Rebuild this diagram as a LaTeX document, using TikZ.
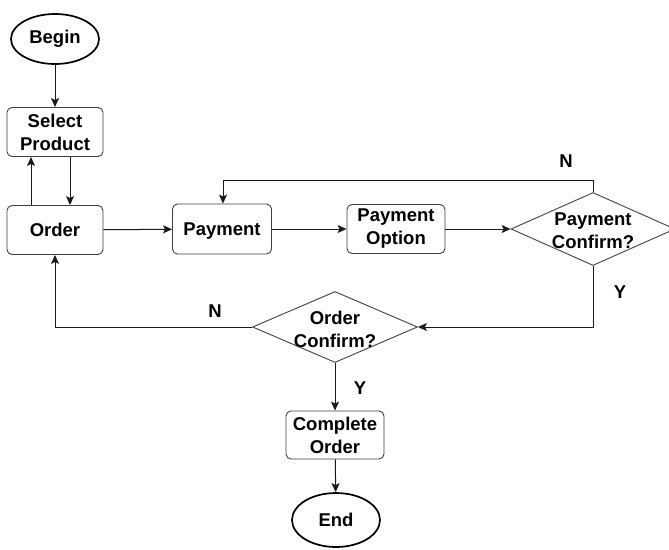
\documentclass[tikz,border=0pt]{standalone}
\usepackage{fontspec}
\setmainfont{Liberation Sans}
\usetikzlibrary{shapes.geometric,arrows.meta}
\newcommand\flowfont{\fontsize{18.5}{23}\selectfont\bfseries}
\begin{document}
\begin{tikzpicture}[x=1pt,y=-1pt,
 box/.style={draw=black!75, rounded corners=5pt, minimum width=96pt, minimum height=49pt, inner sep=0pt, align=center, font=\flowfont, line width=0.9pt},
 term/.style={ellipse, draw=black, line width=1.7pt, minimum width=88pt, minimum height=50pt, inner sep=0pt, font=\flowfont},
 dec/.style={diamond, draw=black!75, line width=0.9pt, inner sep=0pt},
 txt/.style={font=\flowfont, align=center, inner sep=0pt},
 lbl/.style={font=\flowfont, inner sep=0pt},
 conn/.style={draw=black!90, line width=1pt, -{Stealth[length=9pt,width=8pt,inset=2pt]}},
]
\useasboundingbox[fill=white] (0,0) rectangle (669,549);
\node[term] (begin) at (55,39) {Begin};
\node[box] (sel) at (55,132) {Select\\Product};
\node[box] (ord) at (55,230) {Order};
\node[box, minimum width=99pt, minimum height=50pt, text depth=0pt] (pay) at (222,229) {Payment};
\node[box, minimum width=98pt] (popt) at (396,229) {Payment\\Option};
\node[dec, minimum width=164pt, minimum height=73pt] (pc) at (593,229) {};
\node[txt] (pct) at (593,231) {Payment\\Confirm?};
\node[dec, minimum width=165pt, minimum height=71pt] (oc) at (335,327) {};
\node[txt] (oct) at (335,329) {Order\\Confirm?};
\node[box, minimum width=98pt, minimum height=48pt] (comp) at (335,435) {Complete\\Order};
\node[term, minimum height=54pt] (end) at (336,520) {End};

\draw[conn] (begin) -- (sel);
\draw[conn] ([xshift=15pt]sel.south) -- ([xshift=15pt]ord.north);
\draw[conn] ([xshift=-24pt]ord.north) -- ([xshift=-24pt]sel.south);
\draw[conn] (ord) -- (pay);
\draw[conn] (pay) -- (popt);
\draw[conn] (popt) -- (pc);
\draw[conn] (pc.north) -- ++(0,-12) -| ([xshift=1pt]pay.north);
\draw[conn] (pc.south) |- (oc.east);
\draw[conn] (oc.west) -| (ord.south);
\draw[conn] (oc) -- (comp);
\draw[conn] (comp) -- (end);

\node[lbl] (n1) at (566,161) {N};
\node[lbl] (y1) at (620,292) {Y};
\node[lbl] (n2) at (215,311) {N};
\node[lbl] (y2) at (360,388) {Y};
\end{tikzpicture}
\end{document}
